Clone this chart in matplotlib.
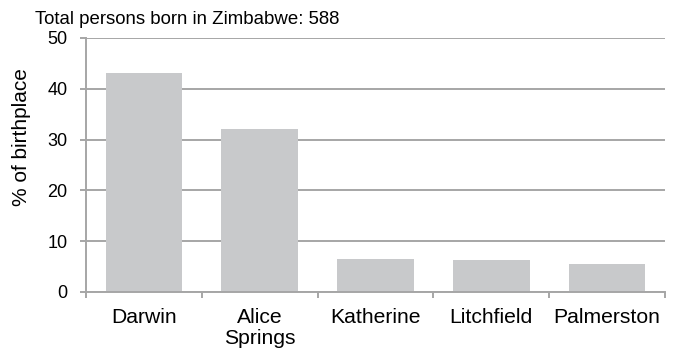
import matplotlib
matplotlib.use("Agg")
import matplotlib.pyplot as plt
import numpy as np

plt.rcParams['font.family'] = ['Liberation Sans', 'DejaVu Sans']

categories = ["Darwin", "Alice\nSprings", "Katherine", "Litchfield", "Palmerston"]
values = [43.2, 32.0, 6.5, 6.3, 5.6]
yticks = [0, 10, 20, 30, 40, 50]
title = "Total persons born in Zimbabwe: 588"

grid_col = "#a6a6a6"
bar_col = "#c8c9cb"
W, H = 678, 354

fig = plt.figure(figsize=(W / 100, H / 100), dpi=100)
ax = fig.add_axes([86 / W, 1 - 292 / H, (665 - 86) / W, (292 - 38) / H])

x = np.arange(len(categories))
ax.bar(x, values, width=0.66, color=bar_col, zorder=2)

ax.set_xlim(-0.5, len(categories) - 0.5)
ax.set_ylim(0, 50)
ax.set_yticks(yticks)
ax.yaxis.grid(True, color=grid_col, linewidth=1.4, zorder=0)
ax.set_axisbelow(True)

# Category boundaries carry the x tick marks; labels sit at bar centres
ax.set_xticks(np.arange(-0.5, len(categories)), minor=False)
ax.set_xticklabels([])
ax.set_xticks(x, minor=True)
ax.set_xticklabels(categories, minor=True, fontsize=15.2, linespacing=1.15)
ax.tick_params(axis='x', which='minor', length=0, pad=11.5)
ax.tick_params(axis='x', which='major', length=4.3, width=1.4, color=grid_col)
ax.tick_params(axis='y', length=4.3, width=1.4, color=grid_col, labelsize=13, pad=9)

for s in ['top', 'right']:
    ax.spines[s].set_visible(False)
for s in ['left', 'bottom']:
    ax.spines[s].set_color(grid_col)
    ax.spines[s].set_linewidth(1.4)

fig.text(22 / W, 1 - 137.5 / H, "% of birthplace", fontsize=15, rotation=90,
         ha='center', va='center')
fig.text(35 / W, 1 - 19 / H, title, fontsize=13.4, ha='left', va='center')

fig.savefig("out.png", dpi=100)
